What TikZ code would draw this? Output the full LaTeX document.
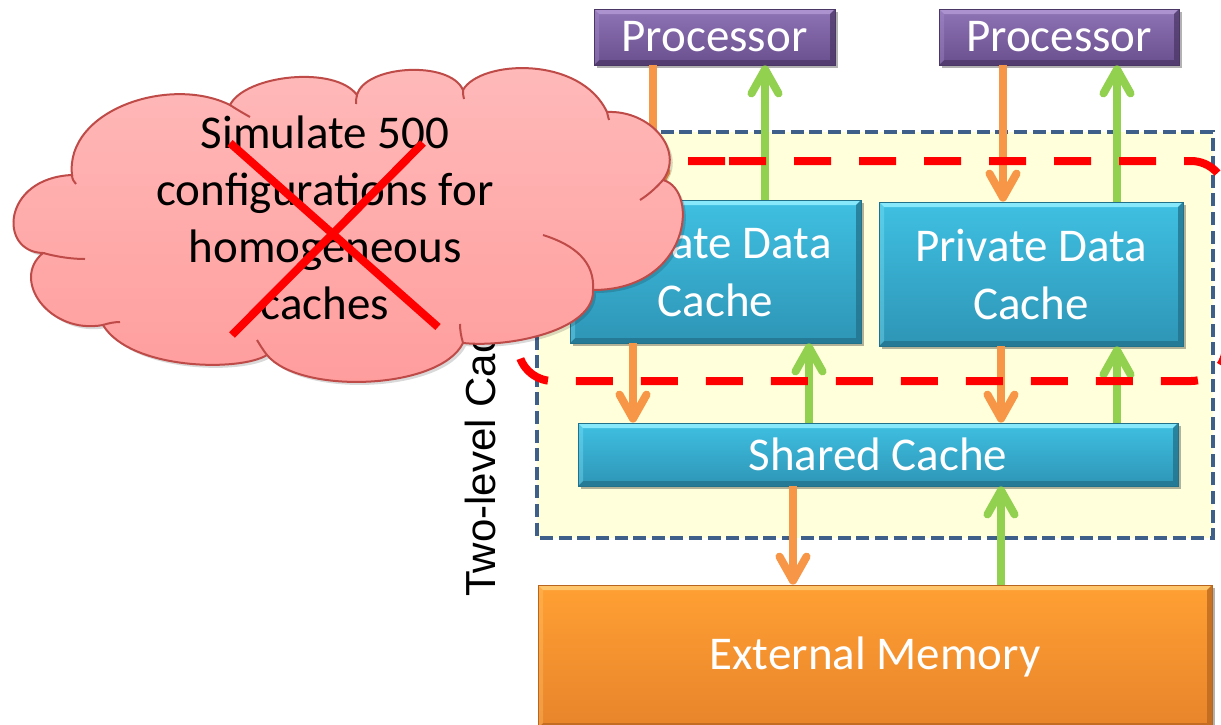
\documentclass[tikz,border=0pt]{standalone}
\usepackage{fontspec}
\setmainfont{Carlito}
\newfontfamily\labelfont{Liberation Sans}
\usetikzlibrary{arrows.meta,shadows}

% box colours: top / bottom of the gradient, light bevel, dark bevel
\definecolor{procTop}{HTML}{8F74B6}
\definecolor{procBot}{HTML}{6A4F8E}
\definecolor{procLight}{HTML}{AC93D0}
\definecolor{procDark}{HTML}{4B3766}
\definecolor{cacheTop}{HTML}{3FC0E2}
\definecolor{cacheBot}{HTML}{2E95B6}
\definecolor{cacheLight}{HTML}{86E8FA}
\definecolor{cacheDark}{HTML}{22718A}
\definecolor{memTop}{HTML}{FFA033}
\definecolor{memBot}{HTML}{E8842B}
\definecolor{memLight}{HTML}{FFC56B}
\definecolor{memDark}{HTML}{B8661F}
% connectors, group frame, note cloud
\definecolor{reqOrange}{HTML}{F79646}
\definecolor{respGreen}{HTML}{92D050}
\definecolor{groupFill}{HTML}{FFFFDB}
\definecolor{groupLine}{HTML}{3E5F8A}
\definecolor{cloudTop}{HTML}{FFBABA}
\definecolor{cloudBot}{HTML}{FF9C9C}
\definecolor{cloudLine}{HTML}{BE4B48}

\tikzset{
  bevel/.style n args={4}{
    shade, top color=#1, bottom color=#2, draw=#4, line width=0.4pt,
    drop shadow={shadow xshift=1.5pt, shadow yshift=-1.5pt, opacity=0.3, fill=black},
    path picture={
      \fill[#3] (path picture bounding box.north west) -- (path picture bounding box.north east)
        -- ([xshift=-2.5pt,yshift=-2.5pt]path picture bounding box.north east)
        -- ([xshift=2.5pt,yshift=-2.5pt]path picture bounding box.north west) -- cycle;
      \fill[#4, opacity=0.75] (path picture bounding box.north east) -- (path picture bounding box.south east)
        -- ([xshift=-2.5pt,yshift=2.5pt]path picture bounding box.south east)
        -- ([xshift=-2.5pt,yshift=-2.5pt]path picture bounding box.north east) -- cycle;
      \fill[#4, opacity=0.75] (path picture bounding box.south west) -- (path picture bounding box.south east)
        -- ([xshift=-2.5pt,yshift=2.5pt]path picture bounding box.south east)
        -- ([xshift=2.5pt,yshift=2.5pt]path picture bounding box.south west) -- cycle;
      \fill[#3, opacity=0.35] (path picture bounding box.north west) -- (path picture bounding box.south west)
        -- ([xshift=2.5pt,yshift=2.5pt]path picture bounding box.south west)
        -- ([xshift=2.5pt,yshift=-2.5pt]path picture bounding box.north west) -- cycle;
    }
  },
  boxtext/.style={text=white, font=\fontsize{23.5pt}{29pt}\selectfont, align=center, inner sep=0pt},
  procbox/.style={bevel={procTop}{procBot}{procLight}{procDark}, boxtext},
  cachebox/.style={bevel={cacheTop}{cacheBot}{cacheLight}{cacheDark}, boxtext},
  membox/.style={bevel={memTop}{memBot}{memLight}{memDark}, boxtext},
  link/.style={line width=4pt, -{Straight Barb[length=12pt,width=13.5pt,round]}},
  request/.style={link, draw=reqOrange},
  reply/.style={link, draw=respGreen},
  groupbox/.style={draw=groupLine, fill=groupFill, line width=2pt, dash pattern=on 6.5pt off 2.8pt},
  sidelabel/.style={font=\labelfont\fontsize{21pt}{25pt}\selectfont, inner sep=0pt},
  hilite/.style={draw=red, line width=4pt, dash pattern=on 18.5pt off 14pt, rounded corners=17.5pt},
  cloudedge/.style={draw=cloudLine, line width=1pt},
  cloudtext/.style={font=\fontsize{23.5pt}{28.5pt}\selectfont, align=center, text=black, inner sep=0pt},
  crossout/.style={draw=red, line width=4pt},
}

\begin{document}
\begin{tikzpicture}[x=0.5pt, y=-0.5pt]
\useasboundingbox (0,0) rectangle (1221,724);

% frame around the two cache levels
\draw[groupbox] (537,132) rectangle (1213,538);
\node[sidelabel, rotate=90, anchor=base west] (lbl) at (495,597) {Two-level Cache};

% components
\node[procbox, minimum width=120.5pt, minimum height=28pt] (proc1) at (714.5,37) {Processor};
\node[procbox, minimum width=120pt, minimum height=28pt] (proc2) at (1059,37) {Processor};
\node[cachebox, minimum width=145.5pt, minimum height=71.5pt] (pdc1) at (715.5,271.5) {Private Data\\Cache};
\node[cachebox, minimum width=152pt, minimum height=72pt] (pdc2) at (1031,274) {Private Data\\Cache};
\node[cachebox, minimum width=300pt, minimum height=31.5pt] (shared) at (878,454.5) {Shared Cache};
\node[membox, minimum width=337pt, minimum height=71.5pt] (mem) at (875,656.5) {External Memory};

% vertical lanes of the connectors
\coordinate (laneA) at (653,0);
\coordinate (laneB) at (765,0);
\coordinate (laneC) at (1003,0);
\coordinate (laneD) at (1117,0);
\coordinate (laneE) at (633,0);
\coordinate (laneF) at (809,0);
\coordinate (laneG) at (1001,0);
\coordinate (laneH) at (793,0);

% requests go down, replies come back up
\draw[request] (proc1.south -| laneA) -- (pdc1.north -| laneA);
\draw[reply]   (pdc1.north -| laneB) -- (proc1.south -| laneB);
\draw[request] (proc2.south -| laneC) -- (pdc2.north -| laneC);
\draw[reply]   (pdc2.north -| laneD) -- (proc2.south -| laneD);
\draw[request] (pdc1.south -| laneE) -- (shared.north -| laneE);
\draw[reply]   (shared.north -| laneF) -- (pdc1.south -| laneF);
\draw[request] (pdc2.south -| laneG) -- (shared.north -| laneG);
\draw[reply]   (shared.north -| laneD) -- (pdc2.south -| laneD);
\draw[request] (shared.south -| laneH) -- (mem.north -| laneH);
\draw[reply]   (mem.north -| laneG) -- (shared.south -| laneG);

% private level highlighted
\draw[hilite] (694,161) -- (1226,161) -- (1226,381) -- (518,381) -- (518,161) -- cycle;

% note cloud, one bezier per puff
\path[preaction={fill=black, opacity=0.15, transform canvas={shift={(1.5pt,-1.5pt)}}},
      top color=cloudTop, bottom color=cloudBot, cloudedge]
  (43,253) .. controls (-2,252) and (2,178) .. (72,175)
  .. controls (65,110) and (170,75) .. (230,105)
  .. controls (245,75) and (335,65) .. (357,95)
  .. controls (365,65) and (450,60) .. (463,90)
  .. controls (480,60) and (580,55) .. (607,112)
  .. controls (650,110) and (685,150) .. (663,180)
  .. controls (700,190) and (690,290) .. (593,290)
  .. controls (595,330) and (510,348) .. (463,343)
  .. controls (440,390) and (300,395) .. (267,355)
  .. controls (240,372) and (130,370) .. (103,325)
  .. controls (50,335) and (10,280) .. (43,253)
  -- cycle;
% inner folds of the cloud
\draw[cloudedge] (43,253) .. controls (58,257) and (72,259) .. (85,259);
\draw[cloudedge] (72,175) .. controls (72,179) and (74,182) .. (76,184);
\draw[cloudedge] (230,105) .. controls (236,109) and (243,113) .. (250,117);
\draw[cloudedge] (357,95) .. controls (356,98) and (356,101) .. (356,104);
\draw[cloudedge] (463,90) .. controls (463,93) and (463,96) .. (464,99);
\draw[cloudedge] (607,112) .. controls (608,115) and (608,118) .. (609,120);
\draw[cloudedge] (663,180) .. controls (656,188) and (648,195) .. (640,200);
\draw[cloudedge] (543,235) .. controls (575,245) and (595,262) .. (593,290);
\draw[cloudedge] (463,343) .. controls (461,336) and (460,330) .. (460,324);
\draw[cloudedge] (267,355) .. controls (263,350) and (260,345) .. (257,340);
\draw[cloudedge] (103,325) .. controls (109,323) and (115,322) .. (120,322);

\node[cloudtext] (note) at (325,217.5) {Simulate 500\\configurations for\\homogeneous\\caches};

% struck out
\coordinate (xA) at (230,143);
\coordinate (xB) at (438,327);
\coordinate (xC) at (423,143);
\coordinate (xD) at (232,335);
\draw[crossout] (xA) -- (xB);
\draw[crossout] (xC) -- (xD);
\end{tikzpicture}
\end{document}
